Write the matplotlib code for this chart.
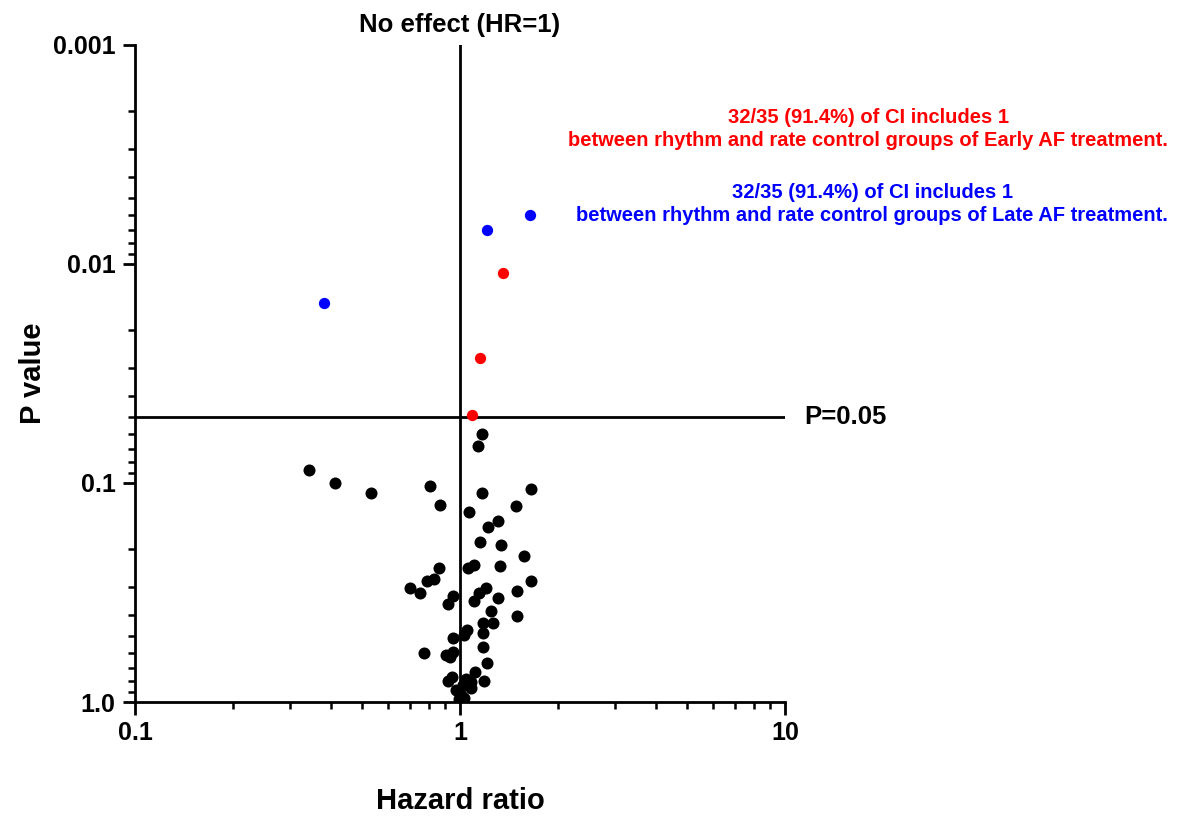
import numpy as np
import matplotlib
matplotlib.use('Agg')
import matplotlib.pyplot as plt
from matplotlib.ticker import FixedLocator, LogLocator, NullFormatter

plt.rcParams['font.family'] = ['Liberation Sans', 'DejaVu Sans']
plt.rcParams['font.weight'] = 'bold'

# hazard ratios and p values
early_hr = [1.089, 1.152, 1.356]
early_p = [0.049, 0.0269, 0.011]

late_hr = [0.382, 1.211, 1.642]
late_p = [0.0151, 0.0070, 0.0060]

other_hr = [1.169, 1.136, 0.343, 0.412, 0.532, 0.809, 0.868, 1.169, 1.654, 1.487,
            1.066, 1.309, 1.219, 1.152, 1.337, 1.574, 0.862, 1.058, 1.104, 1.328,
            0.792, 0.832, 0.702, 0.753, 1.654, 1.497, 0.952, 0.919, 1.202, 1.144,
            1.104, 1.309, 1.245, 1.497, 1.177, 1.263, 1.051, 1.029, 1.177, 0.952,
            1.177, 0.775, 0.906, 0.952, 0.932, 1.211, 1.112, 0.945, 0.919, 1.185,
            1.043, 1.066, 1.021, 1.081, 1.007, 0.993, 1.029, 1.081, 0.972]
other_p = [0.0598, 0.0678, 0.0872, 0.100, 0.111, 0.103, 0.126, 0.111, 0.1065, 0.127,
           0.1356, 0.149, 0.159, 0.186, 0.192, 0.215, 0.244, 0.244, 0.237, 0.239,
           0.280, 0.274, 0.302, 0.318, 0.280, 0.311, 0.328, 0.357, 0.302, 0.318,
           0.346, 0.335, 0.384, 0.405, 0.436, 0.436, 0.469, 0.494, 0.484, 0.510,
           0.561, 0.597, 0.610, 0.591, 0.623, 0.664, 0.730, 0.769, 0.802, 0.802,
           0.785, 0.836, 0.836, 0.863, 0.929, 0.969, 0.958, 0.81, 0.88]

x_ticks = [0.1, 1, 10]
x_labels = ['0.1', '1', '10']
y_ticks = [1.0, 0.1, 0.01, 0.001]
y_labels = ['1.0', '0.1', '0.01', '0.001']

fig = plt.figure(figsize=(11.83, 8.16), dpi=100)
ax = fig.add_axes([0.1141, 0.1397, 0.5495, 0.8052])

ax.scatter(other_hr, other_p, s=75, color='black', zorder=3, linewidths=0)
ax.scatter(early_hr, early_p, s=66, color='#ff0000', zorder=4, linewidths=0)
ax.scatter(late_hr, late_p, s=66, color='#0000ff', zorder=4, linewidths=0)

ax.axvline(1, color='black', lw=2.0, zorder=2)
ax.axhline(0.05, color='black', lw=2.0, zorder=2)

ax.set_xscale('log')
ax.set_yscale('log')
ax.set_xlim(0.1, 10)
ax.set_ylim(1.0, 0.001)

ax.xaxis.set_major_locator(FixedLocator(x_ticks))
ax.set_xticklabels(x_labels)
ax.yaxis.set_major_locator(FixedLocator(y_ticks))
ax.set_yticklabels(y_labels)
ax.xaxis.set_minor_locator(LogLocator(base=10, subs=np.arange(2, 10)))
ax.yaxis.set_minor_locator(LogLocator(base=10, subs=np.arange(2, 10)))
ax.xaxis.set_minor_formatter(NullFormatter())
ax.yaxis.set_minor_formatter(NullFormatter())

ax.tick_params(which='major', length=9, width=2.0, labelsize=18, pad=5)
ax.tick_params(which='minor', length=5, width=1.8)
for lab in ax.get_xticklabels() + ax.get_yticklabels():
    lab.set_fontweight('bold')

for side in ['top', 'right']:
    ax.spines[side].set_visible(False)
for side in ['left', 'bottom']:
    ax.spines[side].set_linewidth(2.0)

ax.set_xlabel('Hazard ratio', fontsize=21, fontweight='bold', labelpad=30)
ax.set_ylabel('P value', fontsize=21, fontweight='bold', labelpad=4)

ax.text(1, 1.012, 'No effect (HR=1)', transform=ax.get_xaxis_transform(),
        ha='center', va='bottom', fontsize=18.5, fontweight='bold')
ax.text(1.03, 0.05, 'P=0.05', transform=ax.get_yaxis_transform(),
        ha='left', va='center', fontsize=18.5, fontweight='bold')

fig.text(868 / 1183, 1 - 129 / 816,
         '32/35 (91.4%) of CI includes 1\n'
         'between rhythm and rate control groups of Early AF treatment.',
         ha='center', va='center', multialignment='center', color='#ff0000',
         fontsize=14.5, fontweight='bold', linespacing=1.3)
fig.text(872 / 1183, 1 - 204 / 816,
         '32/35 (91.4%) of CI includes 1\n'
         'between rhythm and rate control groups of Late AF treatment.',
         ha='center', va='center', multialignment='center', color='#0000ff',
         fontsize=14.5, fontweight='bold', linespacing=1.3)

fig.savefig('out.png', dpi=100)
